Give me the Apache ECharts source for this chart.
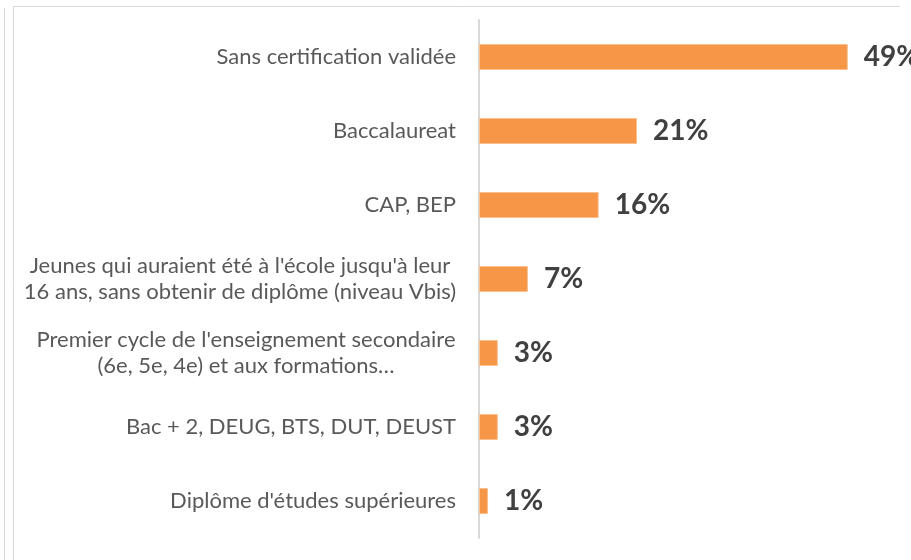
<!DOCTYPE html>
<html>
<head>
<meta charset="utf-8">
<script src="https://cdn.jsdelivr.net/npm/echarts@6/dist/echarts.min.js"></script>
<style>
  html, body { margin: 0; padding: 0; background: #fff; }
  #chart { width: 911px; height: 560px; }
</style>
</head>
<body>
<div id="chart"></div>
<script>
// catégories (de haut en bas) et parts en %
const categories = [
  'Sans certification validée',
  'Baccalaureat',
  'CAP, BEP',
  "Jeunes qui auraient été à l'école jusqu'à leur\n16 ans, sans obtenir de diplôme (niveau Vbis)",
  "Premier cycle de l'enseignement secondaire\n(6e, 5e, 4e) et aux formations…",
  'Bac + 2, DEUG, BTS, DUT, DEUST',
  "Diplôme d'études supérieures"
];
const values = [49.0, 21.0, 15.9, 6.5, 2.5, 2.5, 1.2];

const chart = echarts.init(document.getElementById('chart'));

const textFont = 'Lato';
const textSize = 22;

// libellés sur deux lignes : lignes centrées dans un bloc aligné à droite
const labelFormatter = (value, index) => {
  if (value.indexOf('\n') < 0) return value;
  const key = index === 3 ? 'w1' : 'w2';
  return value.split('\n').map((l) => '{' + key + '|' + l + '}').join('\n');
};

const richStyle = (w) => ({
  width: w, align: 'center', color: '#595959',
  fontFamily: textFont, fontSize: textSize, lineHeight: 26
});

const option = {
  animation: false,
  grid: { left: 479, right: 3, top: 20, bottom: 22, containLabel: false },
  xAxis: {
    type: 'value',
    min: 0,
    max: 57,
    show: false
  },
  yAxis: {
    type: 'category',
    inverse: true,
    data: categories,
    axisLine: { show: true, lineStyle: { color: '#d9d9d9', width: 2 } },
    axisTick: { show: false },
    axisLabel: {
      margin: 23,
      color: '#595959',
      fontFamily: textFont,
      fontSize: textSize,
      lineHeight: 26,
      formatter: labelFormatter,
      rich: { w1: richStyle(432), w2: richStyle(420) }
    }
  },
  series: [{
    type: 'bar',
    data: values,
    barWidth: 26,
    itemStyle: { color: '#f79646', borderColor: '#fac090', borderWidth: 1 },
    label: {
      show: true,
      position: 'right',
      distance: 16,
      color: '#404040',
      fontFamily: textFont,
      fontWeight: 'bold',
      fontSize: 28,
      formatter: (p) => Math.round(p.value) + '%'
    }
  }],
  graphic: [
    { type: 'line', shape: { x1: 4.5, y1: 8, x2: 4.5, y2: 560 }, style: { stroke: '#d9d9d9', lineWidth: 1 } },
    { type: 'polyline', shape: { points: [[13.5, 560], [13.5, 6.5], [900, 6.5]] }, style: { stroke: '#d9d9d9', lineWidth: 1, fill: null } }
  ]
};

chart.setOption(option);
</script>
</body>
</html>
